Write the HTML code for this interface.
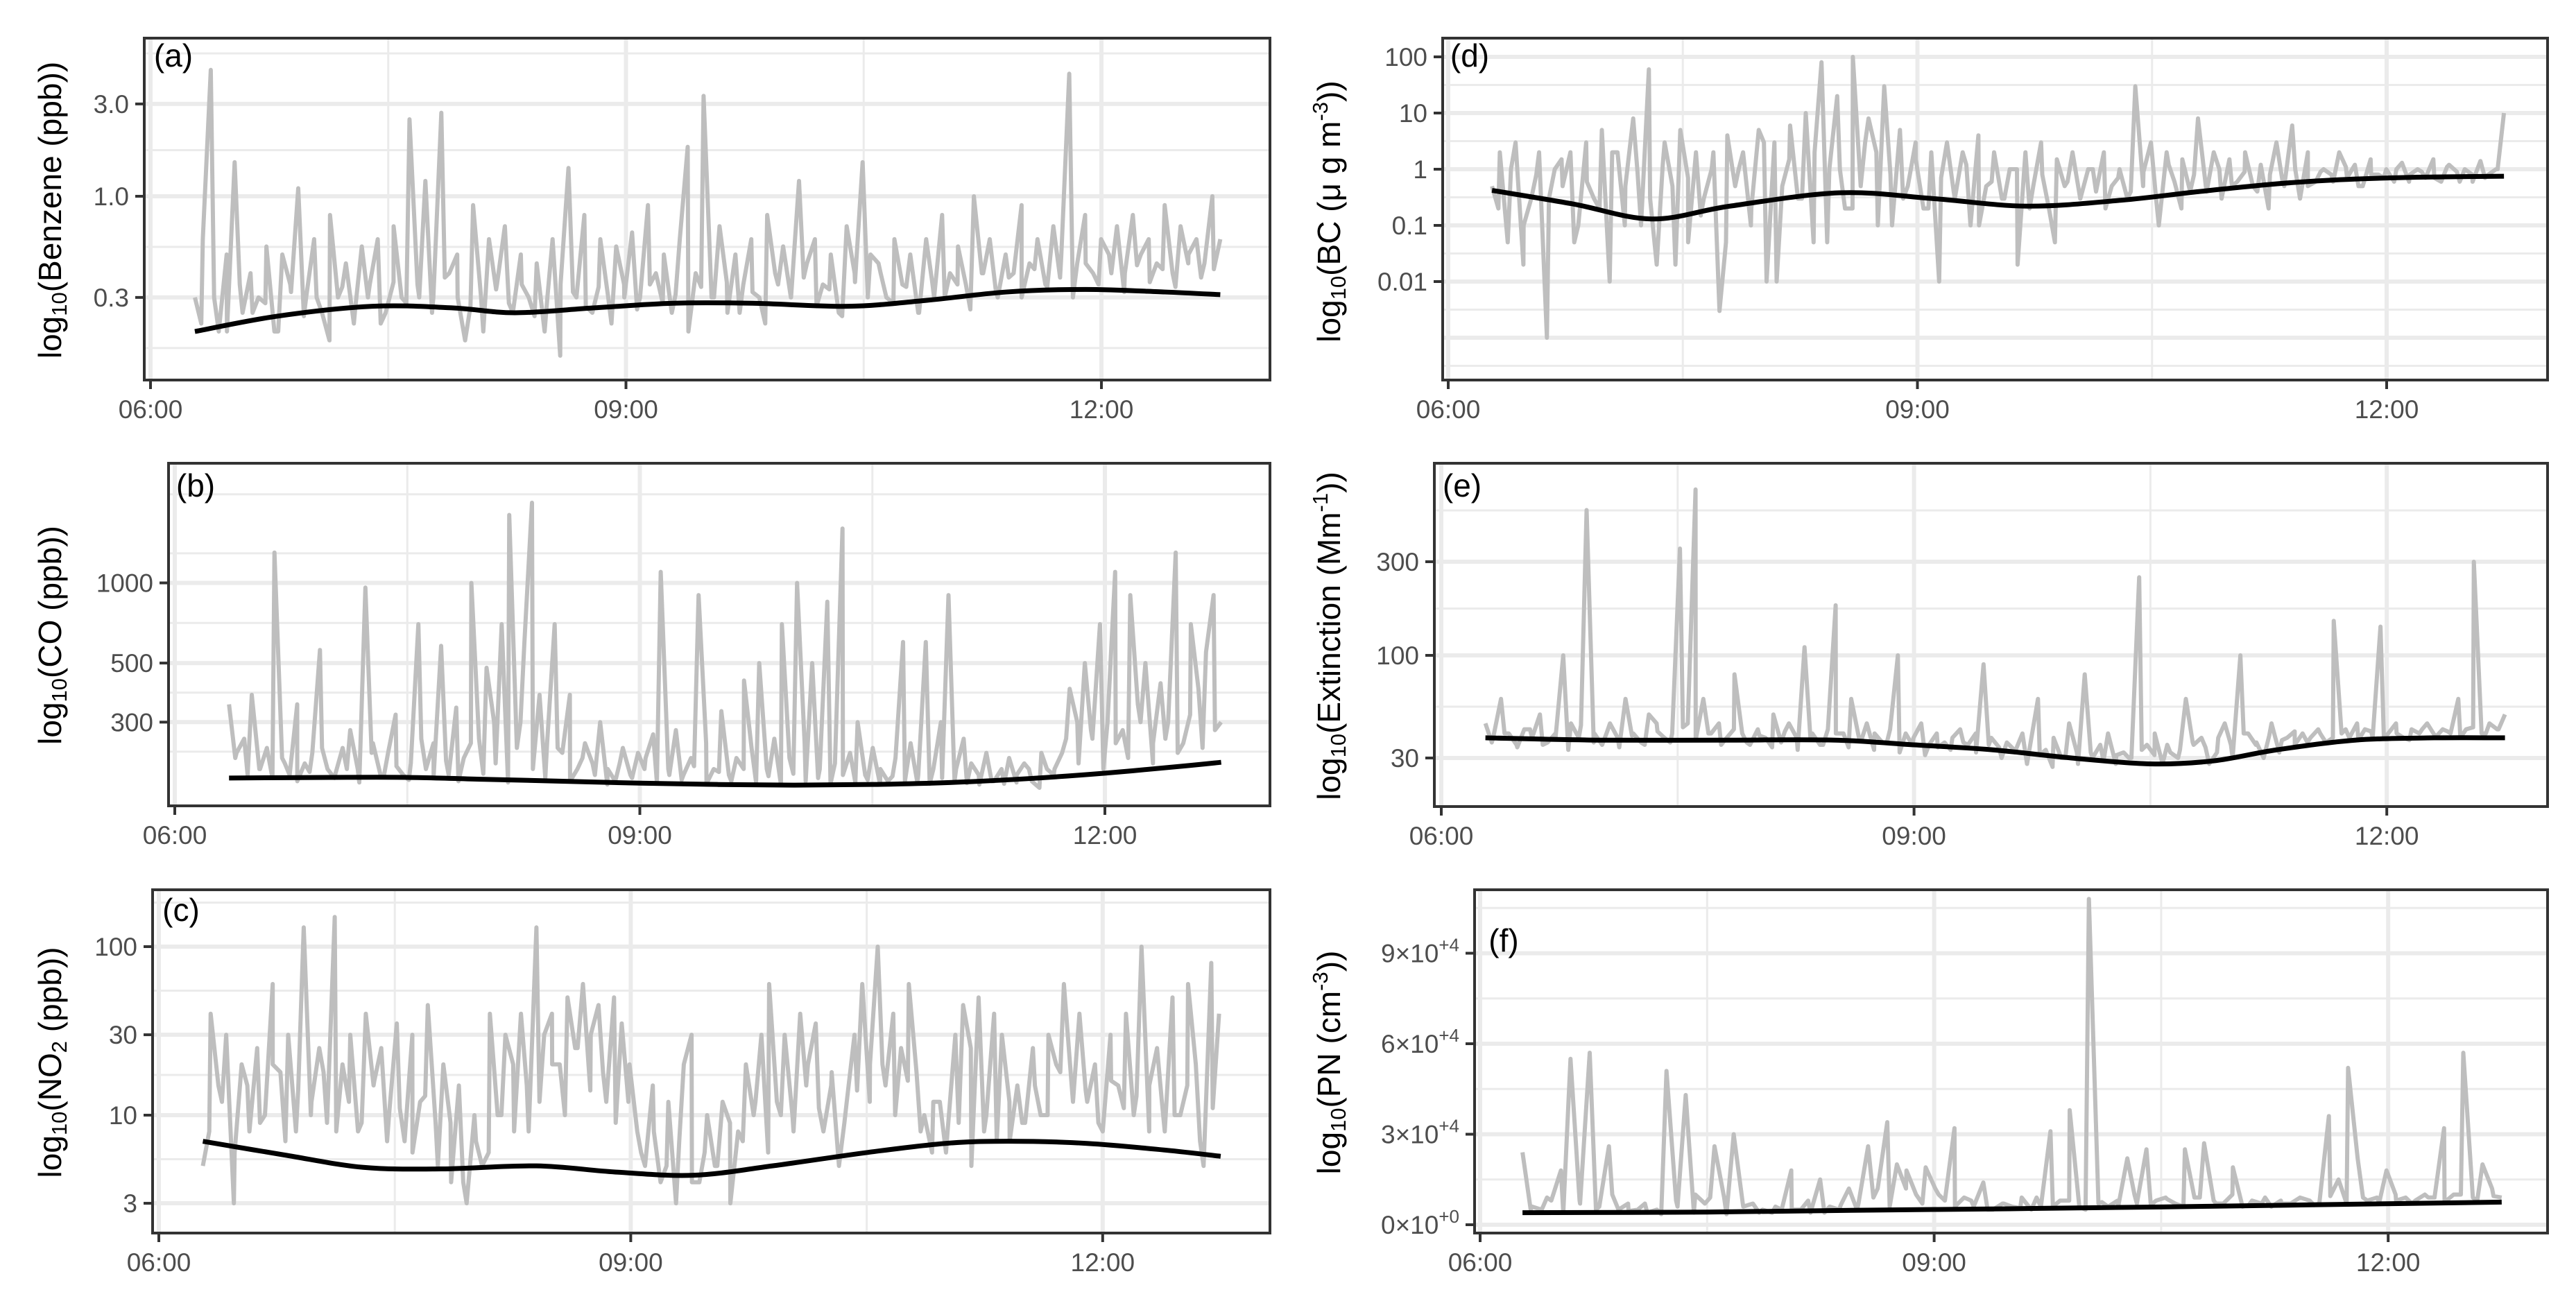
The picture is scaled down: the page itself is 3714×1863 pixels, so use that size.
<!DOCTYPE html>
<html><head><meta charset="utf-8"><style>
html,body{margin:0;padding:0;background:#fff;}
svg{display:block;font-family:"Liberation Sans",sans-serif;}
</style></head><body>
<svg id="fig" width="3714" height="1863" viewBox="0 0 3714 1863" xmlns="http://www.w3.org/2000/svg">
<rect x="0" y="0" width="3714" height="1863" fill="#fff"/>
<g id="titles" font-size="46" fill="#000" text-anchor="middle">
<text transform="translate(88,303) rotate(-90)">log<tspan font-size="31" dy="8">10</tspan><tspan dy="-8">(Benzene (ppb))</tspan></text>
<text transform="translate(88,916) rotate(-90)">log<tspan font-size="31" dy="8">10</tspan><tspan dy="-8">(CO (ppb))</tspan></text>
<text transform="translate(88,1532) rotate(-90)">log<tspan font-size="31" dy="8">10</tspan><tspan dy="-8">(NO</tspan><tspan font-size="31" dy="8">2</tspan><tspan dy="-8"> (ppb))</tspan></text>
<text transform="translate(1932,305) rotate(-90)">log<tspan font-size="31" dy="8">10</tspan><tspan dy="-8">(BC (μ g m</tspan><tspan font-size="31" dy="-18">-3</tspan><tspan dy="18">))</tspan></text>
<text transform="translate(1932,917) rotate(-90)">log<tspan font-size="31" dy="8">10</tspan><tspan dy="-8">(Extinction (Mm</tspan><tspan font-size="31" dy="-18">-1</tspan><tspan dy="18">))</tspan></text>
<text transform="translate(1932,1532) rotate(-90)">log<tspan font-size="31" dy="8">10</tspan><tspan dy="-8">(PN (cm</tspan><tspan font-size="31" dy="-18">-3</tspan><tspan dy="18">))</tspan></text>
</g>
</svg>
<script>
// ---- data ----
const hourTicks = [6, 9, 12];
const hourTickLabels = ['06:00', '09:00', '12:00'];
const seriesStart = 6.28;
const seriesEnd = 12.75;

const benzeneValues = [0.3,0.6,4.5,0.2,0.5,1.5,0.25,0.4,0.3,0.55,0.2,0.5,0.35,1.1,0.3,0.6,0.25,0.8,0.3,0.45,0.22,0.55,0.35,0.6,0.25,0.7,0.3,2.5,0.35,1.2,0.3,2.7,0.4,0.5,0.18,0.9,0.3,0.6,0.35,0.7,0.25,0.5,0.3,0.45,0.2,0.6,0.35,1.4,0.3,0.8,0.25,0.6,0.3,0.55,0.35,0.65,0.3,0.9,0.4,0.5,0.25,0.6,1.8,0.4,3.3,0.3,0.7,0.25,0.5,0.35,0.6,0.3,0.8,0.4,0.55,0.3,1.2,0.45,0.6,0.35,0.5,0.25,0.7,0.4,1.5,0.5,0.45,0.3,0.6,0.35,0.5,0.25,0.6,0.3,0.8,0.4,0.55,0.35,1.0,0.4,0.6,0.3,0.5,0.4,0.9,0.45,0.6,0.35,0.7,0.5,4.3,0.45,0.8,0.4,0.6,0.5,0.7,0.4,0.8,0.5,0.6,0.45,0.9,0.4,0.7,0.5,0.6,0.45,1.0,0.6];
const benzeneLow = [0.22,0.3,0.2,0.35,0.25,0.28,0.2,0.32,0.24,0.3,0.18,0.34,0.26,0.3,0.22,0.36,0.28,0.3,0.25,0.38,0.3,0.27,0.2,0.33,0.28,0.35,0.24,0.3,0.15,0.32,0.27,0.34,0.22,0.3,0.26,0.35,0.28,0.31,0.2,0.34,0.3,0.36,0.25,0.32,0.22,0.35,0.3,0.38,0.27,0.33,0.24,0.36,0.3,0.4,0.28,0.34,0.25,0.37,0.3,0.35,0.26,0.4,0.32,0.38,0.3,0.42,0.34,0.38,0.3,0.45,0.35,0.4,0.32,0.44,0.36,0.42,0.34,0.45,0.38,0.42];
const benzeneSmoothT = [6.28,6.8,7.4,7.9,8.3,8.8,9.3,9.8,10.4,10.9,11.4,11.9,12.4,12.75];
const benzeneSmoothV = [0.2,0.24,0.27,0.265,0.25,0.265,0.28,0.28,0.27,0.29,0.32,0.33,0.32,0.31];
const benzeneTicks = [0.3, 1, 3];
const benzeneTickLabels = ['0.3', '1.0', '3.0'];

const coValues = [350,230,260,380,200,240,1300,220,190,350,210,230,560,200,190,240,280,200,960,250,190,230,320,190,210,700,200,250,580,190,340,220,1000,260,480,300,700,1800,240,600,2000,380,250,700,230,380,200,250,210,300,200,180,240,190,230,220,270,1100,200,280,190,220,900,250,200,330,190,220,430,240,500,200,260,700,220,1000,250,500,200,850,210,1600,230,300,190,240,200,180,220,600,250,190,600,200,300,900,200,260,210,190,230,180,200,220,190,210,180,170,200,200,230,400,300,500,260,700,300,1100,280,900,350,500,250,420,300,1300,250,700,400,550,900,300];
const coLow = [220,190,200,185,210,180,195,240,185,200,178,230,190,205,182,260,188,215,180,250,192,210,178,300,200,185,240,180,220,190,175,210,185,200,178,190,182,205,176,195,180,200,178,188,175,192,180,185,176,190,178,182,175,188,180,178,176,185,180,177,175,180,176,178,200,230,190,260,210,280,200,250,220,300,210,260,230,320,240,280];
const coSmoothT = [6.35,7.0,7.5,8.0,8.5,9.0,9.5,10.0,10.5,11.0,11.5,12.0,12.5,12.75];
const coSmoothV = [185,186,186,183,180,177,175,174,175,178,184,193,205,212];
const coTicks = [300, 500, 1000];
const coTickLabels = ['300', '500', '1000'];

const no2Values = [5,40,15,30,3,20,8,25,10,60,18,30,8,130,12,25,9,150,20,30,8,40,15,25,10,35,7,30,12,45,9,20,4,15,3,10,5,40,10,30,20,40,8,130,30,40,20,50,25,60,30,45,12,50,35,20,8,5,15,4,12,3,20,30,4,10,5,12,3,8,20,10,30,60,12,30,10,40,20,35,8,15,5,12,30,60,20,100,15,40,25,60,18,10,6,12,8,30,45,25,50,10,40,30,7,15,9,25,10,30,20,60,15,40,12,20,8,30,15,40,10,100,15,25,8,50,10,60,20,5,80,40];
const no2Low = [8,12,6,15,9,20,7,14,10,18,8,12,9,16,7,11,6,13,5,9,4,7,6,10,8,15,12,20,10,25,14,18,9,12,6,8,5,7,4,6,5,9,7,12,6,10,8,15,11,18,9,14,12,20,10,16,8,12,6,9,5,8,7,12,9,15,10,18,12,14,9,16,11,13,8,12,10,15,7,11];
const no2SmoothT = [6.28,6.8,7.3,7.8,8.4,8.9,9.4,9.9,10.5,11.0,11.4,11.9,12.4,12.75];
const no2SmoothV = [7.0,5.8,4.9,4.8,5.0,4.6,4.4,5.0,6.0,6.8,7.0,6.8,6.2,5.7];
const no2Ticks = [3, 10, 30, 100];
const no2TickLabels = ['3', '10', '30', '100'];

const bcValues = [0.5,2,0.05,3,0.02,0.3,2,0.001,1,0.5,2,0.1,3,0.3,5,0.01,2,0.5,8,0.1,60,0.02,3,0.5,5,0.05,2,0.3,1,0.003,4,0.5,2,0.1,5,0.01,3,0.5,6,0.3,10,0.05,80,1,20,0.2,100,0.5,8,2,30,0.1,5,0.5,3,0.2,2,0.01,3,0.3,2,0.1,4,0.5,2,0.3,1,0.02,2,0.5,3,0.2,1.5,0.5,2,0.3,1,0.4,2,0.5,1,0.3,30,0.5,3,0.1,2,0.6,1.5,0.4,8,0.5,2,0.3,1.5,0.6,2,0.5,1.2,0.2,3,0.5,6,0.3,2,0.6,1,0.8,2,0.7,1.2,0.5,1.5,0.8,1,0.6,1.3,0.8,1,0.7,1.5,0.6,1.2,0.9,1,0.6,1.4,0.8,1,10];
const bcLow = [0.2,1,0.1,0.8,0.3,1.5,0.05,0.6,0.2,2,0.1,0.9,0.3,1.2,0.02,0.7,0.15,2,0.05,1,0.2,3,0.01,1.5,0.3,2,0.05,1,0.2,3,0.1,0.8,0.3,1.5,0.2,0.7,0.4,1.2,0.1,0.6,0.3,1,0.2,0.8,0.05,0.6,0.3,1,0.2,0.7,0.4,0.9,0.3,1.2,0.2,0.8,0.4,1,0.5,0.9,0.4,0.8,0.6,1,0.5,0.9,0.6,1.1,0.5,0.8,0.7,1,0.6,0.9,0.7,1.1,0.6,0.8,0.7,1];
const bcSmoothT = [6.28,6.8,7.3,7.8,8.5,9.1,9.7,10.3,10.8,11.3,11.7,12.2,12.75];
const bcSmoothV = [0.42,0.24,0.13,0.22,0.38,0.3,0.22,0.28,0.4,0.55,0.65,0.72,0.75];
const bcTicks = [0.001, 0.01, 0.1, 1, 10, 100];
const bcTickLabels = ['', '0.01', '0.1', '1', '10', '100'];

const extValues = [45,38,60,40,35,42,38,50,36,40,100,45,38,550,40,35,45,38,60,40,36,50,45,38,40,350,45,700,60,40,45,38,80,40,35,42,38,50,36,45,38,110,40,35,42,180,40,60,38,45,40,36,42,100,40,38,45,35,40,36,38,42,35,40,90,38,34,36,32,40,35,60,33,38,30,45,32,80,30,35,40,28,32,30,250,35,40,28,32,30,60,35,38,28,32,45,30,100,40,35,30,45,32,38,35,40,38,42,36,150,40,38,45,42,38,140,40,45,38,42,40,45,38,42,40,60,42,300,40,45,42,50];
const extLow = [36,40,34,42,35,38,33,44,36,40,34,39,35,41,36,43,37,40,35,42,36,39,34,41,33,38,35,40,34,37,33,36,32,35,31,34,33,36,32,35,30,33,28,31,27,30,28,32,29,31,30,33,31,35,33,36,34,38,35,40,36,39,37,41,36,40,38,42,37,41,38,40,37,42,39,41,38,43,40,42];
const extSmoothT = [6.28,7.0,7.8,8.5,9.0,9.5,10.0,10.5,10.9,11.3,11.8,12.3,12.75];
const extSmoothV = [38,37,37,37,35,33,30,28,29,33,37,38,38];
const extTicks = [30, 100, 300];
const extTickLabels = ['30', '100', '300'];

const pnValues = [24000,6000,5000,8000,18000,55000,7000,57000,6000,26000,5000,7000,5000,4000,5000,51000,8000,43000,10000,7000,26000,9000,30000,6000,7000,5000,4000,5000,18000,5000,4000,15000,6000,5000,12000,7000,26000,12000,34000,20000,18000,10000,19000,12000,8000,32000,9000,6000,14000,5000,7000,6000,9000,5000,6000,31000,8000,38000,6000,108000,7000,6000,8000,22000,7000,25000,8000,9000,7000,25000,9000,27000,8000,7000,19000,6000,8000,7000,6000,8000,7000,9000,8000,7000,36000,15000,52000,22000,8000,9000,18000,8000,9000,8000,10000,9000,32000,10000,57000,9000,20000,12000,9000];
const pnLow = [5000,9000,4000,8000,5000,10000,4500,7000,3500,6000,4000,9000,3500,7000,4000,6000,5000,8000,4000,6500,5000,9000,6000,12000,7000,10000,6000,8000,5000,7000,5500,9000,6000,8000,5000,7500,6000,10000,6500,8500,6000,9000,7000,10000,6500,9000,7000,8500,6500,9500,7000,9000,7500,10000,7000,9000,7500,10000,8000,9500];
const pnSmoothT = [6.28,7.5,8.5,9.5,10.5,11.5,12.75];
const pnSmoothV = [4000,4200,4800,5300,5900,6600,7500];
const pnTicks = [0, 30000, 60000, 90000];
const pnTickMant = ['0', '3', '6', '9'];
const pnTickExp = ['+0', '+4', '+4', '+4'];

// ---- layout ----
const NS = 'http://www.w3.org/2000/svg';
const svg = document.getElementById('fig');
const panels = [
  {id:'a', name:'benzene', box:[208,55,1831,548], x06:217, pph:228.5, log:true, ref:1, refY:283, ppd:279, vals:benzeneValues, low:benzeneLow, st:benzeneSmoothT, sv:benzeneSmoothV, ticks:benzeneTicks, labels:benzeneTickLabels, lab:[250,96], t0:seriesStart, t1:seriesEnd},
  {id:'b', name:'co', box:[243,668,1831,1162], x06:252, pph:223.5, log:true, ref:1000, refY:840.5, ppd:384, vals:coValues, low:coLow, st:coSmoothT, sv:coSmoothV, ticks:coTicks, labels:coTickLabels, lab:[282,716], t0:6.35, t1:seriesEnd},
  {id:'c', name:'no2', box:[220,1283,1831,1778], x06:229, pph:226.8, log:true, ref:100, refY:1365, ppd:243, vals:no2Values, low:no2Low, st:no2SmoothT, sv:no2SmoothV, ticks:no2Ticks, labels:no2TickLabels, lab:[261,1328], t0:seriesStart, t1:12.74},
  {id:'d', name:'bc', box:[2080,55,3673,548], x06:2088, pph:225.5, log:true, ref:1, refY:244, ppd:81, vals:bcValues, low:bcLow, st:bcSmoothT, sv:bcSmoothV, ticks:bcTicks, labels:bcTickLabels, lab:[2119,96], t0:seriesStart, t1:seriesEnd},
  {id:'e', name:'extinction', box:[2068,668,3673,1163], x06:2078, pph:227.2, log:true, ref:100, refY:945, ppd:283, vals:extValues, low:extLow, st:extSmoothT, sv:extSmoothV, ticks:extTicks, labels:extTickLabels, lab:[2108,716], t0:seriesStart, t1:seriesEnd},
  {id:'f', name:'pn', box:[2126,1283,3673,1778], x06:2134, pph:218.2, log:false, zeroY:1766, ppu:130.5/30000, vals:pnValues, low:pnLow, st:pnSmoothT, sv:pnSmoothV, ticks:pnTicks, labels:null, lab:[2168,1372], t0:seriesStart, t1:seriesEnd}
];

function mk(tag, attrs, parent){
  const e = document.createElementNS(NS, tag);
  for (const k in attrs) e.setAttribute(k, attrs[k]);
  (parent||svg).appendChild(e);
  return e;
}

panels.forEach(p => {
  const [L,T,R,B] = p.box;
  const xs = t => p.x06 + (t - 6) * p.pph;
  const ys = p.log ? (v => p.refY - (Math.log10(v) - Math.log10(p.ref)) * p.ppd) : (v => p.zeroY - v * p.ppu);
  const g = mk('g', {});
  
  
  const cp = mk('clipPath', {id:'clip-' + p.id}, g);
  mk('rect', {x:L, y:T, width:R-L, height:B-T}, cp);

  // gridlines
  const grid = mk('g', {'clip-path':'url(#clip-' + p.id + ')'}, g);
  
  
  const majY = p.ticks.map(ys);
  const minY = [];
  for (let i = 0; i < majY.length - 1; i++) minY.push((majY[i] + majY[i+1]) / 2);
  if (majY.length > 1) {
    const step = (majY[1] - majY[0]);
    minY.push(majY[0] - step/2);
    minY.push(majY[majY.length-1] + step/2);
    minY.push(majY[majY.length-1] + step*1.5);
  }
  minY.forEach(y => mk('line', {x1:L, x2:R, y1:y, y2:y, stroke:'#ebebeb', 'stroke-width':3}, grid));
  majY.forEach(y => mk('line', {x1:L, x2:R, y1:y, y2:y, stroke:'#ebebeb', 'stroke-width':6}, grid));
  [7.5, 10.5].forEach(t => mk('line', {x1:xs(t), x2:xs(t), y1:T, y2:B, stroke:'#ebebeb', 'stroke-width':3}, grid));
  hourTicks.forEach(t => mk('line', {x1:xs(t), x2:xs(t), y1:T, y2:B, stroke:'#ebebeb', 'stroke-width':6}, grid));

  // raw series: peaks and lows merged by time
  const merged = [];
  const n = p.vals.length, m = p.low.length;
  p.vals.forEach((v, i) => merged.push([p.t0 + i * (p.t1 - p.t0) / (n - 1), v]));
  p.low.forEach((v, j) => merged.push([p.t0 + (j + 0.5) * (p.t1 - p.t0) / m, v]));
  merged.sort((a, b) => a[0] - b[0]);
  const pts = merged.map(d => xs(d[0]).toFixed(1) + ',' + ys(d[1]).toFixed(1)).join(' ');
  const raw = mk('polyline', {points:pts, fill:'none', stroke:'#bebebe', 'stroke-width':6, 'stroke-linejoin':'round', 'clip-path':'url(#clip-' + p.id + ')'}, g);
  
  

  // smooth
  const sp = p.st.map((t, i) => [xs(t), ys(p.sv[i])]);
  let d = 'M' + sp[0][0] + ',' + sp[0][1];
  for (let i = 0; i < sp.length - 1; i++) {
    const p0 = sp[Math.max(i-1,0)], p1 = sp[i], p2 = sp[i+1], p3 = sp[Math.min(i+2, sp.length-1)];
    const c1 = [p1[0] + (p2[0]-p0[0])/6, p1[1] + (p2[1]-p0[1])/6];
    const c2 = [p2[0] - (p3[0]-p1[0])/6, p2[1] - (p3[1]-p1[1])/6];
    d += ' C' + c1.join(',') + ' ' + c2.join(',') + ' ' + p2.join(',');
  }
  const sm = mk('path', {d:d, fill:'none', stroke:'#000', 'stroke-width':7}, g);
  
  

  // border
  const br = mk('rect', {x:L, y:T, width:R-L, height:B-T, fill:'none', stroke:'#333', 'stroke-width':4}, g);
  
  

  // y ticks
  p.ticks.forEach((v, i) => {
    const y = ys(v);
    if (p.labels && p.labels[i] === '') return;
    mk('line', {x1:L-13, x2:L, y1:y, y2:y, stroke:'#333', 'stroke-width':4}, g);
    const tx = mk('text', {x:L-22, y:y+13, 'text-anchor':'end', 'font-size':37, fill:'#4d4d4d'}, g);
    
    
    if (p.labels) {
      tx.textContent = p.labels[i];
    } else {
      const a = document.createElementNS(NS, 'tspan'); a.textContent = pnTickMant[i] + '×10'; tx.appendChild(a);
      const b = document.createElementNS(NS, 'tspan'); b.setAttribute('dy', '-16'); b.setAttribute('font-size', '26'); b.textContent = pnTickExp[i]; tx.appendChild(b);
    }
  });
  // x ticks
  hourTicks.forEach((t, i) => {
    const x = xs(t);
    mk('line', {x1:x, x2:x, y1:B, y2:B+13, stroke:'#333', 'stroke-width':4}, g);
    const tx = mk('text', {x:x, y:B+55, 'text-anchor':'middle', 'font-size':37, fill:'#4d4d4d'}, g);
    
    
    tx.textContent = hourTickLabels[i];
  });
  // panel letter
  const pl = mk('text', {x:p.lab[0], y:p.lab[1], 'text-anchor':'middle', 'font-size':46, fill:'#000'}, g);
  
  
  pl.textContent = '(' + p.id + ')';
});
</script>
</body></html>
